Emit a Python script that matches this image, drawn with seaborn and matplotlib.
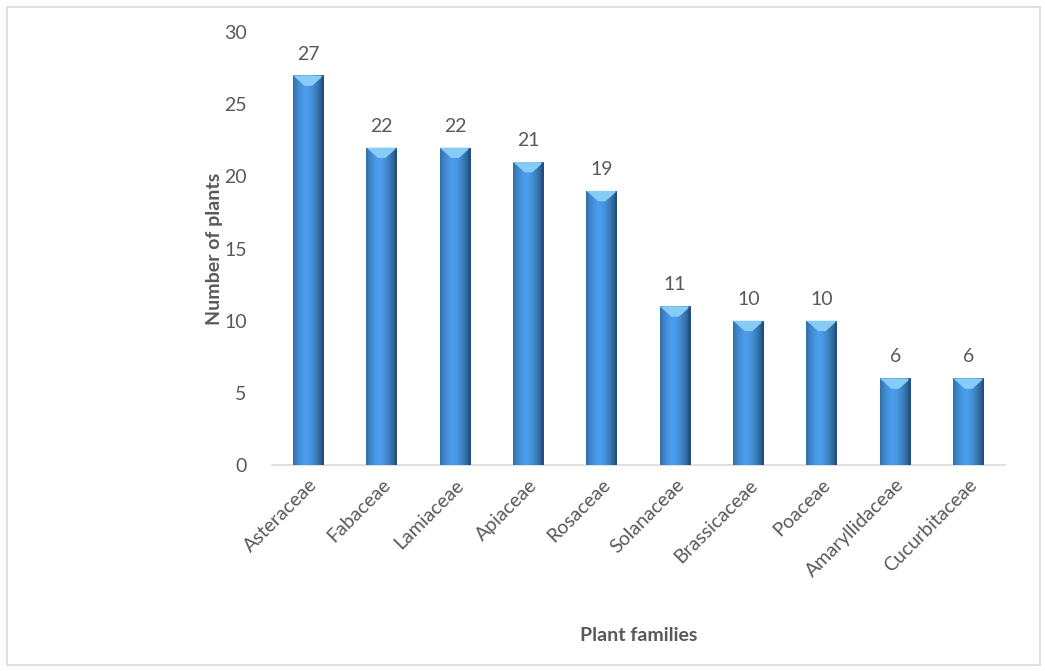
import matplotlib
matplotlib.use("Agg")
import matplotlib.pyplot as plt
from matplotlib.patches import Rectangle, Polygon
import numpy as np
import pandas as pd
import seaborn as sns

families = ["Asteraceae", "Fabaceae", "Lamiaceae", "Apiaceae", "Rosaceae",
            "Solanaceae", "Brassicaceae", "Poaceae", "Amaryllidaceae", "Cucurbitaceae"]
counts = [27, 22, 22, 21, 19, 11, 10, 10, 6, 6]

sns.set_theme(style="white")
plt.rcParams["font.family"] = ["Lato", "DejaVu Sans"]
txt = "#595959"

df = pd.DataFrame({"family": families, "count": counts})

fig = plt.figure(figsize=(10.45, 6.71), dpi=100)
ax = fig.add_axes([0.260, 0.307, 0.702, 0.645])

sns.barplot(data=df, x="family", y="count", color="#3F93E3", width=0.42,
            saturation=1, ax=ax)

# gradient across each bar plus a light bevel on top
grad = np.linspace(0, 1, 64)
shade = 1 - 0.55 * np.abs(grad - 0.42) ** 1.6 * 2.2
shade = np.clip(shade, 0.35, 1)
base = np.array([0.29, 0.62, 0.93])
img = (base[None, :] * shade[:, None])[None, :, :]
px_per_unit = ax.transData.transform((0, 1))[1] - ax.transData.transform((0, 0))[1]
for p in list(ax.patches):
    x0, w, h = p.get_x(), p.get_width(), p.get_height()
    im = ax.imshow(img, extent=[x0, x0 + w, 0, h], aspect="auto", zorder=3)
    im.set_clip_path(p)
    bh = 11 / px_per_unit
    ax.add_patch(Polygon([[x0, h], [x0 + w, h], [x0 + w * 0.62, h - bh],
                          [x0 + w * 0.38, h - bh]], closed=True,
                         facecolor="#86CCF7", edgecolor="none", zorder=4))
    ax.add_patch(Rectangle((x0 + w - w * 0.08, 0), w * 0.08, h,
                           facecolor="#1C4E86", alpha=0.5, edgecolor="none", zorder=4))
    ax.text(x0 + w / 2, h + 0.9, str(int(h)), ha="center", va="bottom",
            fontsize=14, color=txt, zorder=5)

ax.set_xlim(-0.5, len(families) - 0.5)
ax.set_ylim(0, 30)
ax.set_yticks(range(0, 31, 5))
ax.tick_params(axis="both", length=0, labelsize=14, labelcolor=txt)
ax.tick_params(axis="y", pad=18)
ax.tick_params(axis="x", pad=8)
plt.setp(ax.get_xticklabels(), rotation=45, ha="right", rotation_mode="anchor")
for s in ["top", "right", "left"]:
    ax.spines[s].set_visible(False)
ax.spines["bottom"].set_color("#D9D9D9")
ax.spines["bottom"].set_linewidth(1.2)

ax.set_xlabel("Plant families", fontsize=14, fontweight="bold", color=txt)
ax.xaxis.set_label_coords(0.5, -0.375)
ax.set_ylabel("Number of plants", fontsize=14, fontweight="bold", color=txt)
ax.yaxis.set_label_coords(-0.066, 0.5)

fig.add_artist(Rectangle((7 / 1045, 1 - 665 / 671), 1033 / 1045, 658 / 671,
                         transform=fig.transFigure, fill=False,
                         edgecolor="#D9D9D9", linewidth=1.2))

fig.savefig("out.png", dpi=100)
